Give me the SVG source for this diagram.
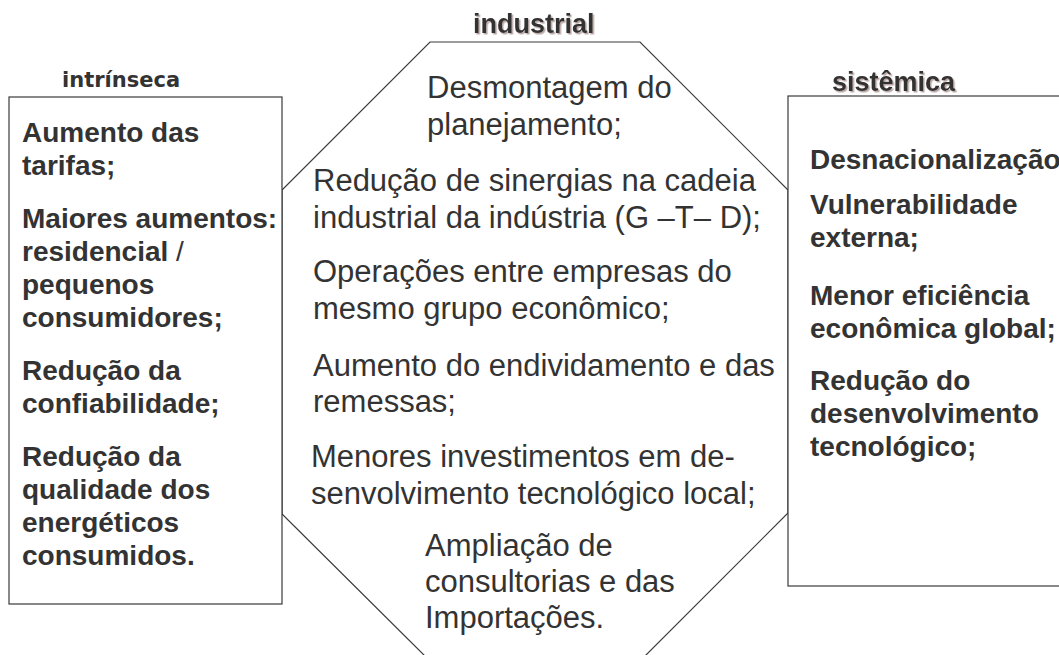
<svg xmlns="http://www.w3.org/2000/svg" width="1059" height="655" viewBox="0 0 1059 655">
<defs>
<filter id="shadow" x="-10%" y="-20%" width="130%" height="160%">
<feDropShadow dx="1.5" dy="1.5" stdDeviation="0.4" flood-color="#b8a6a3" flood-opacity="1"/>
</filter>
<style>
.frame{fill:none;stroke:#3a3a3a;stroke-width:1.2}
.box{fill:#fff;stroke:#3a3a3a;stroke-width:1.2}
.hdr{font-family:"Liberation Sans",Arial,sans-serif;font-weight:bold;font-size:27px;fill:#333}
.hdr2{font-family:"DejaVu Sans",Verdana,sans-serif;font-weight:bold;font-size:21px;fill:#333}
.bold{font-family:"Liberation Sans",Arial,sans-serif;font-weight:bold;font-size:28px;fill:#333}
.reg{font-family:"Liberation Sans",Arial,sans-serif;font-size:31px;fill:#333}
</style>
</defs>
<rect width="1059" height="655" fill="#fff"/>
<g id="connectors"/>
<g id="node-industrial">
<polygon class="frame" points="430,42 640,42 788,190 788,513 641,660 429,660 282,514 282,190"/>
<text class="hdr" x="473" y="33" filter="url(#shadow)">industrial</text>
<text class="reg">
<tspan x="427" y="98">Desmontagem do</tspan>
<tspan x="427" y="135">planejamento;</tspan>
<tspan x="313" y="191">Redução de sinergias na cadeia</tspan>
<tspan x="313" y="228">industrial da indústria (G –T– D);</tspan>
<tspan x="313" y="282">Operações entre empresas do</tspan>
<tspan x="313" y="319">mesmo grupo econômico;</tspan>
<tspan x="313" y="376">Aumento do endividamento e das</tspan>
<tspan x="313" y="412">remessas;</tspan>
<tspan x="311" y="467">Menores investimentos em de-</tspan>
<tspan x="311" y="504">senvolvimento tecnológico local;</tspan>
<tspan x="425" y="556">Ampliação de</tspan>
<tspan x="425" y="592">consultorias e das</tspan>
<tspan x="425" y="628">Importações.</tspan>
</text>
</g>
<g id="node-intrinseca">
<text class="hdr2" x="62" y="87">intrínseca</text>
<rect class="box" x="9" y="97" width="273" height="507"/>
<text class="bold">
<tspan x="22" y="142">Aumento das</tspan>
<tspan x="22" y="175">tarifas;</tspan>
<tspan x="22" y="228">Maiores aumentos:</tspan>
<tspan x="22" y="261">residencial <tspan font-weight="normal">/</tspan></tspan>
<tspan x="22" y="294">pequenos</tspan>
<tspan x="22" y="327">consumidores;</tspan>
<tspan x="22" y="380">Redução da</tspan>
<tspan x="22" y="413">confiabilidade;</tspan>
<tspan x="22" y="466">Redução da</tspan>
<tspan x="22" y="499">qualidade dos</tspan>
<tspan x="22" y="532">energéticos</tspan>
<tspan x="22" y="565">consumidos.</tspan>
</text>
</g>
<g id="node-sistemica">
<text class="hdr" x="832" y="91" filter="url(#shadow)">sistêmica</text>
<rect class="box" x="788" y="96" width="290" height="490"/>
<text class="bold">
<tspan x="810" y="169">Desnacionalização</tspan>
<tspan x="810" y="214">Vulnerabilidade</tspan>
<tspan x="810" y="247">externa;</tspan>
<tspan x="810" y="305">Menor eficiência</tspan>
<tspan x="810" y="338">econômica global;</tspan>
<tspan x="810" y="390">Redução do</tspan>
<tspan x="810" y="423">desenvolvimento</tspan>
<tspan x="810" y="456">tecnológico;</tspan>
</text>
</g>
</svg>
